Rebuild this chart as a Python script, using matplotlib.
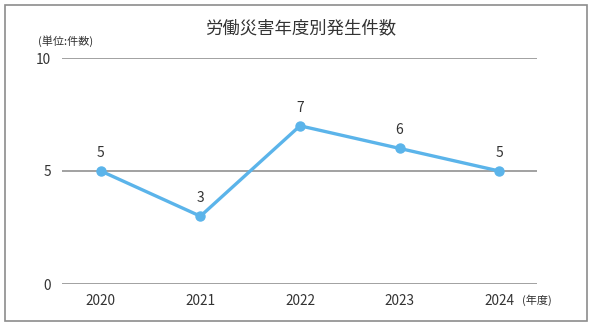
import matplotlib
matplotlib.use("Agg")
import matplotlib.pyplot as plt
from matplotlib.patches import Rectangle

plt.rcParams['font.family'] = ['Noto Sans CJK JP', 'DejaVu Sans']

# データ
years = ['2020', '2021', '2022', '2023', '2024']
counts = [5, 3, 7, 6, 5]
y_ticks = [0, 5, 10]

title = '労働災害年度別発生件数'
unit_label = '(単位:件数)'
x_unit = '(年度)'

line_color = '#5bb4ea'
grid_color = '#9a9a9a'
text_color = '#333333'

W, H = 596, 327
fig = plt.figure(figsize=(W / 100, H / 100), dpi=100)

# 外枠
fig.patches.append(Rectangle((5 / W, 6 / H), 582 / W, 316 / H, transform=fig.transFigure,
                             fill=False, edgecolor='#8c8c8c', linewidth=1.2))

ax = fig.add_axes([62 / W, 1 - 284 / H, (537 - 62) / W, (284 - 58) / H])
x = list(range(len(years)))
ax.plot(x, counts, color=line_color, linewidth=2.4, marker='o', markersize=6.5, zorder=3)

for xi, v in zip(x, counts):
    ax.annotate(str(v), (xi, v), xytext=(0, 8), textcoords='offset points',
                ha='center', va='bottom', fontsize=10, color=text_color)

ax.set_xlim(-0.39, 4.38)
ax.set_ylim(0, 10)
ax.set_yticks(y_ticks)
ax.set_xticks(x)
ax.set_xticklabels(years)
ax.tick_params(axis='both', length=0, labelsize=9.8, labelcolor=text_color)
ax.tick_params(axis='x', pad=7)
ax.tick_params(axis='y', pad=8)
for s in ax.spines.values():
    s.set_visible(False)
for t in y_ticks:
    ax.axhline(t, color=grid_color, linewidth=1.3, zorder=1)

fig.text(301 / W, 1 - 28 / H, title, ha='center', va='center', fontsize=12.5, color=text_color)
fig.text(38 / W, 1 - 41 / H, unit_label, ha='left', va='center', fontsize=8, color=text_color)
fig.text(537 / W, 1 - 300 / H, x_unit, ha='center', va='center', fontsize=8, color=text_color)

fig.savefig('out.png', dpi=100)
